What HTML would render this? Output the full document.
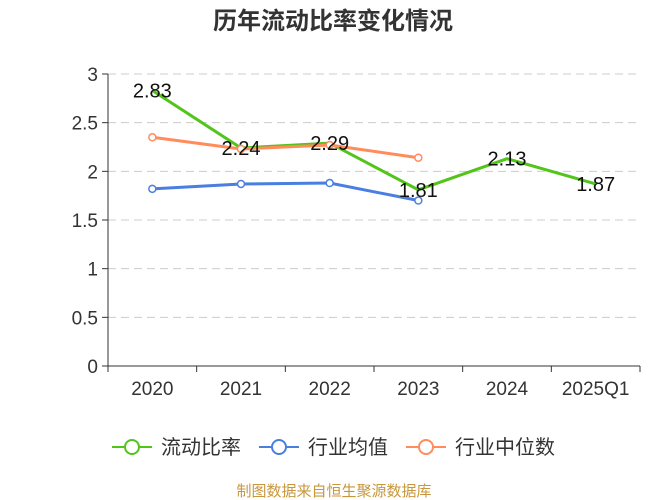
<!DOCTYPE html>
<html><head><meta charset="utf-8"><style>
body{margin:0;background:#fff;}
svg{display:block;font-family:"Liberation Sans","Noto Sans CJK SC",sans-serif;}
</style></head><body>
<svg id="chart" width="667" height="500">
<text x="333" y="29" text-anchor="middle" font-size="24" font-weight="bold" fill="#333">历年流动比率变化情况</text>
<g id="grid"></g><g id="axes"></g><g id="series"></g><g id="labels"></g>
<g>
 <g><line x1="112" y1="447" x2="152" y2="447" stroke="#52c41a" stroke-width="2"/><circle cx="132" cy="447" r="7" fill="#fff" stroke="#52c41a" stroke-width="2"/><text x="161" y="454" font-size="20" fill="#333">流动比率</text></g>
 <g><line x1="259" y1="447" x2="299" y2="447" stroke="#4a7ee0" stroke-width="2"/><circle cx="279" cy="447" r="7" fill="#fff" stroke="#4a7ee0" stroke-width="2"/><text x="308" y="454" font-size="20" fill="#333">行业均值</text></g>
 <g><line x1="406" y1="447" x2="446" y2="447" stroke="#ff8c5a" stroke-width="2"/><circle cx="426" cy="447" r="7" fill="#fff" stroke="#ff8c5a" stroke-width="2"/><text x="455" y="454" font-size="20" fill="#333">行业中位数</text></g>
</g>
<text x="334" y="496" text-anchor="middle" font-size="15" fill="#c8963c">制图数据来自恒生聚源数据库</text>
</svg>
<script>
const categories=["2020","2021","2022","2023","2024","2025Q1"];
const currentRatio=[2.83,2.24,2.29,1.81,2.13,1.87];
const industryAvg=[1.82,1.87,1.88,1.70];
const industryMedian=[2.35,2.23,2.27,2.14];
const yTicks=[0,0.5,1,1.5,2,2.5,3];
const yTickLabels=["0","0.5","1","1.5","2","2.5","3"];
const NS="http://www.w3.org/2000/svg";
const x0=108,x1=640,y0=366,y1=74,yMax=3;
const bw=(x1-x0)/categories.length;
const xs=i=>x0+bw*(i+0.5);
const ys=v=>y0-(v/yMax)*(y0-y1);
function mk(p,tag,attrs){const e=document.createElementNS(NS,tag);for(const k in attrs)e.setAttribute(k,attrs[k]);p.appendChild(e);return e;}
const grid=document.getElementById('grid'),axes=document.getElementById('axes'),series=document.getElementById('series'),labels=document.getElementById('labels');
yTicks.forEach((t,i)=>{
 if(t>0){const g=mk(grid,'line',{x1:x0,x2:x1,y1:ys(t),y2:ys(t),stroke:'#ccc','stroke-dasharray':'8,5'});
 
 }
 const tk=mk(axes,'line',{x1:x0-6,x2:x0,y1:ys(t),y2:ys(t),stroke:'#333'});
 
 
 const tl=mk(axes,'text',{x:x0-10,y:ys(t)+7,'text-anchor':'end','font-size':'19',fill:'#333'});
 tl.textContent=yTickLabels[i];
 
 
});
const ya=mk(axes,'line',{x1:x0,x2:x0,y1:y1,y2:y0,stroke:'#333'});


const xa=mk(axes,'line',{x1:x0,x2:x1,y1:y0,y2:y0,stroke:'#333'});


for(let i=0;i<=categories.length;i++){const t=mk(axes,'line',{x1:x0+bw*i,x2:x0+bw*i,y1:y0,y2:y0+6,stroke:'#333'});
 
 }
categories.forEach((c,i)=>{const t=mk(axes,'text',{x:xs(i),y:y0+29,'text-anchor':'middle','font-size':'19',fill:'#333'});t.textContent=c;
 
 });
function drawSeries(vals,color,name,markers){
 const pl=mk(series,'polyline',{points:vals.map((v,i)=>xs(i)+','+ys(v)).join(' '),fill:'none',stroke:color,'stroke-width':3});
 
 
 if(markers)vals.forEach((v,i)=>{const c=mk(series,'circle',{cx:xs(i),cy:ys(v),r:3.5,fill:'#fff',stroke:color,'stroke-width':1.5});
  
  });
}
drawSeries(currentRatio,'#52c41a','current-ratio',false);
drawSeries(industryAvg,'#4a7ee0','industry-average',true);
drawSeries(industryMedian,'#ff8c5a','industry-median',true);
currentRatio.forEach((v,i)=>{const t=mk(labels,'text',{x:xs(i),y:ys(v)+7,'text-anchor':'middle','font-size':'20',fill:'#111'});t.textContent=v.toFixed(2);
 
 });
</script>
</body></html>
